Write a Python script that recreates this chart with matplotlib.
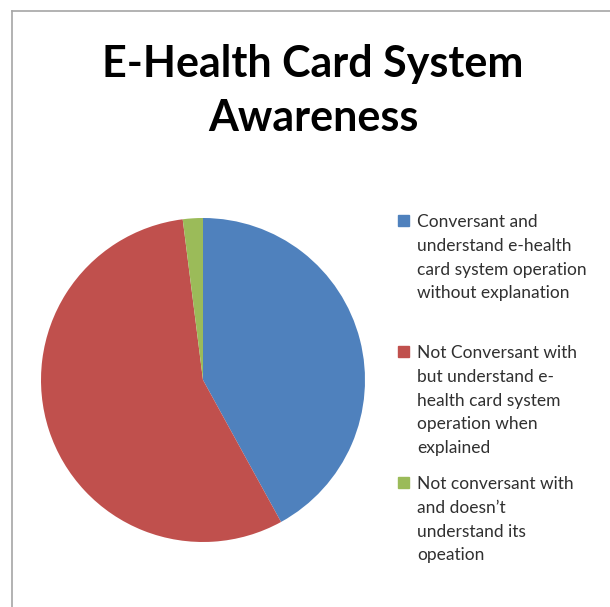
import matplotlib
matplotlib.use('Agg')
import matplotlib.pyplot as plt
from matplotlib.patches import Rectangle
from matplotlib.lines import Line2D

title = 'E-Health Card System\nAwareness'
labels = ['Conversant and\nunderstand e-health\ncard system operation\nwithout explanation',
          'Not Conversant with\nbut understand e-\nhealth card system\noperation when\nexplained',
          'Not conversant with\nand doesn\u2019t\nunderstand its\nopeation']
values = [42, 56, 2]
colors = ['#4F81BD', '#C0504D', '#9BBB59']

W, H = 610, 607
fig = plt.figure(figsize=(W / 100, H / 100), dpi=100)

# gray chart frame (only left and top edges visible)
fig.add_artist(Line2D([12 / W, 12 / W], [0, 1 - 11 / H], color='#a6a6a6', lw=1.2))
fig.add_artist(Line2D([12 / W, 1], [1 - 11 / H, 1 - 11 / H], color='#a6a6a6', lw=1.2))

# pie
cx, cy, r = 203, 380, 162
ax = fig.add_axes([(cx - r) / W, (H - cy - r) / H, 2 * r / W, 2 * r / H])
ax.pie(values, colors=colors, startangle=90, counterclock=False,
       wedgeprops=dict(linewidth=0))
ax.set_xlim(-1, 1)
ax.set_ylim(-1, 1)
ax.axis('off')

fig.text(313 / W, 1 - 91 / H, title, ha='center', va='center',
         fontsize=31, fontweight='bold', family='Lato', linespacing=1.42)

# legend
entry_top = [221, 352, 483]
for lab, col, y in zip(labels, colors, entry_top):
    fig.add_artist(Rectangle((398 / W, 1 - (y + 5) / H), 11 / W, 11 / H,
                             transform=fig.transFigure, color=col))
    fig.text(417 / W, 1 - (y - 7) / H, lab, ha='left', va='top',
             fontsize=12.5, family='Lato', color='#303030', linespacing=1.6)

fig.savefig('out.png', dpi=100)
